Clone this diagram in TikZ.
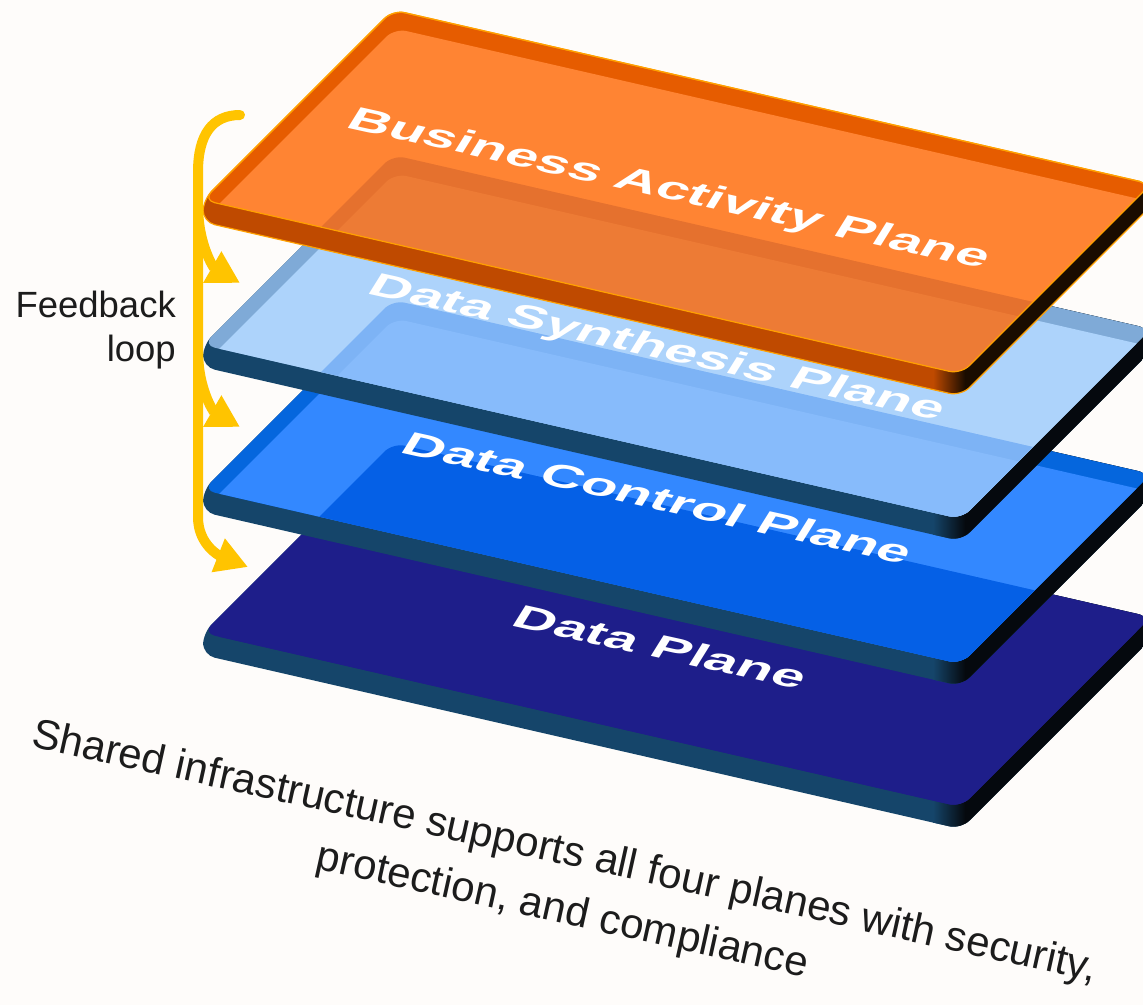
\documentclass[tikz,border=0pt]{standalone}
\usepackage{fontspec}
\setmainfont{Liberation Sans}
\usetikzlibrary{arrows.meta}
\definecolor{bg}{HTML}{FEFCFA}
\definecolor{bizside}{HTML}{BF4A00}
\definecolor{bizright}{HTML}{1A0C00}
\definecolor{bizrim}{HTML}{E65C00}
\definecolor{bizinner}{HTML}{FF8433}
\definecolor{bizgr}{HTML}{E5712E}
\definecolor{bizgi}{HTML}{ED7B35}
\definecolor{bizline}{HTML}{FFA000}
\definecolor{synrim}{HTML}{7FAAD7}
\definecolor{syninner}{HTML}{ADD3FB}
\definecolor{syngr}{HTML}{7DB3F5}
\definecolor{syngi}{HTML}{87BBFB}
\definecolor{ctlrim}{HTML}{0566DD}
\definecolor{ctlinner}{HTML}{3388FF}
\definecolor{ctlg}{HTML}{0560E6}
\definecolor{datcol}{HTML}{1E1E8A}
\definecolor{bside}{HTML}{15456A}
\definecolor{bright}{HTML}{05090E}
\definecolor{fbyellow}{HTML}{FFC400}
\definecolor{txtdark}{HTML}{1C1C1C}

\newcommand\topshape{(0,0) -- (758,174) -- (948,-16) -- (190,-190) -- cycle}
\newcommand\innershape{(1,19) -- (191.63,-171.63) -- (993,12) -- (993,300) -- (1,300) -- cycle}
\newcommand\silhouette{(190,-190) -- (0,0) -- (0,22) -- (758,196) -- (948,6) -- (948,-16) -- cycle}

% #1 y0, #2 side, #3 right side, #4 rim, #5 inner, #6 ghost dy, #7 ghost rim, #8 ghost inner
\newcommand\drawplane[8]{%
  \begin{scope}[shift={(203,#1)}]
    \begin{scope}
      \clip[rounded corners=12] \silhouette;
      \fill[#2] (-10,-200) rectangle (1000,260);
      \shade[left color=#2, right color=#3] (730,100) rectangle (762,260);
      \fill[#3] (762,-220) rectangle (1000,260);
    \end{scope}
    \fill[#4, rounded corners=12] \topshape;
    \begin{scope}
      \clip[rounded corners=12] \topshape;
      \fill[#5, rounded corners=12] \innershape;
      \begin{scope}[shift={(0,#6)}]
        \clip[rounded corners=12] \topshape;
        \fill[#7, rounded corners=12] \topshape;
        \fill[#8, rounded corners=12] \innershape;
      \end{scope}
    \end{scope}
  \end{scope}}

\begin{document}
\begin{tikzpicture}[x=1pt, y=-1pt,
  planetext/.style={anchor=base west, inner sep=0, transform shape, text=white,
    font=\bfseries\fontsize{10}{12}\selectfont},
  fbarrow/.style={draw=fbyellow, line width=10pt,
    -{Triangle[length=32pt, width=34pt]}, fbyellow},
  labeltext/.style={text=txtdark, inner sep=0}]
\useasboundingbox (0,0) rectangle (1143,1005);
\fill[bg] (0,0) rectangle (1143,1005);

% Data Plane
\drawplane{633}{bside}{bright}{datcol}{datcol}{2000}{datcol}{datcol}
\begin{scope}[shift={(508,625)}, cm={5.66,-1.255,1.87,3.0,(0,0)}]
  \node[planetext] (tData) at (0,0) {Data Plane};
\end{scope}

% Data Control Plane
\drawplane{490}{bside}{bright}{ctlrim}{ctlinner}{143}{ctlg}{ctlg}
\begin{scope}[shift={(397,452)}, cm={5.66,-1.255,1.87,3.0,(0,0)}]
  \node[planetext] (tCtl) at (0,0) {Data Control Plane};
\end{scope}

% Data Synthesis Plane
\drawplane{345}{bside}{bright}{synrim}{syninner}{145}{syngr}{syngi}
\begin{scope}[shift={(364,293)}, cm={5.66,-1.255,1.87,3.0,(0,0)}]
  \node[planetext] (tSyn) at (0,0) {Data Synthesis Plane};
\end{scope}

% Business Activity Plane
\drawplane{200}{bizside}{bizright}{bizrim}{bizinner}{145}{bizgr}{bizgi}
\begin{scope}[shift={(203,200)}]
  \draw[bizline, line width=1.2pt, rounded corners=12] \silhouette;
  \draw[bizline, line width=1.2pt, rounded corners=12] \topshape;
\end{scope}
\begin{scope}[shift={(343,127)}, cm={5.66,-1.255,1.87,3.0,(0,0)}]
  \node[planetext] (tBiz) at (0,0) {Business Activity Plane};
\end{scope}

% Feedback loop
\coordinate (fbStart) at (240,115);
\coordinate (fbA1) at (240,283);
\coordinate (fbA2) at (240,427);
\coordinate (fbA3) at (248,567);
\coordinate (fbB1) at (198,205);
\coordinate (fbB2) at (198,350);
\draw[fbarrow, line cap=round] (fbStart) .. controls (212,115) and (198,135) .. (198,172)
  -- (198,517) .. controls (198,545) and (220,556) .. (fbA3);
\draw[fbarrow] (fbB1) .. controls (198,245) and (214,268) .. (fbA1);
\draw[fbarrow] (fbB2) .. controls (198,390) and (214,412) .. (fbA2);

\node[labeltext, align=right, anchor=north east, font=\fontsize{36.5}{44}\selectfont]
  (fbLabel) at (176,291) {Feedback\\loop};

% Shared infrastructure
\node[labeltext, rotate=-12.5, anchor=base, font=\fontsize{42}{50}\selectfont]
  (infra1) at (562,864) {Shared infrastructure supports all four planes with security,};
\node[labeltext, rotate=-12.5, anchor=base, font=\fontsize{42}{50}\selectfont]
  (infra2) at (560,923) {protection, and compliance};
\end{tikzpicture}
\end{document}
